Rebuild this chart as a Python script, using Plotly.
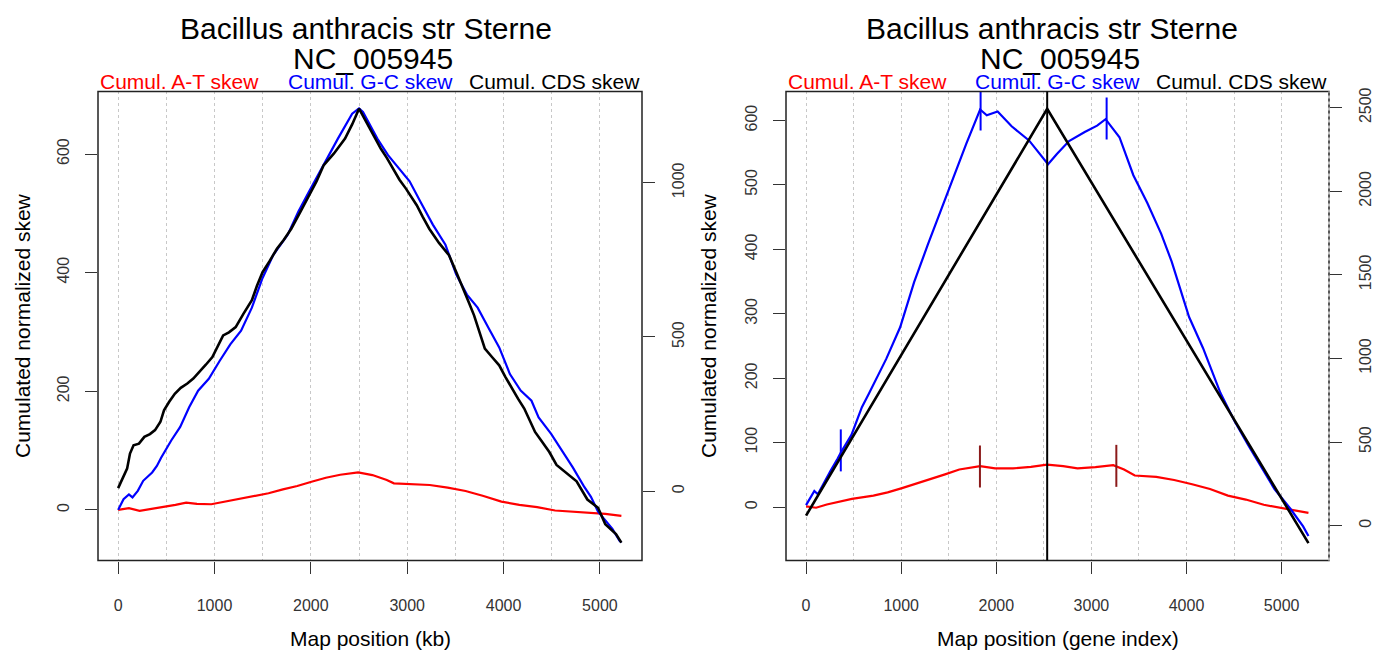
import plotly.graph_objects as go

W, H = 1385, 654
FONT = "Liberation Sans, Arial, sans-serif"

# ---------------- Left panel (map position in kb) ----------------
at_kb_x = [0, 112, 223, 335, 483, 595, 706, 818, 967, 1115, 1264, 1413, 1561, 1710, 1859, 2007, 2156, 2305, 2491,
           2639, 2788, 2862, 3048, 3234, 3420, 3606, 3792, 3978, 4164, 4349, 4535, 4721, 4907, 5056, 5223]
at_kb_y = [0, 2.8, -1.7, 1.1, 5.6, 8.4, 12.3, 10, 9.5, 14, 19.6, 23.5, 28, 34.6, 40.2, 47.5, 54.2, 59.2, 63.1,
           58.7, 50.3, 44.7, 43.6, 41.9, 37.4, 31.8, 23.5, 14, 8.4, 4.5, -1.1, -2.8, -4.5, -6.7, -10]

gc_kb_x = [0, 56, 112, 149, 204, 260, 353, 402, 446, 551, 644, 737, 830, 941, 1053, 1164, 1276, 1388, 1499, 1611,
           1760, 1871, 1983, 2132, 2281, 2429, 2500, 2541, 2690, 2801, 2913, 3025, 3136, 3266, 3397, 3508, 3620,
           3731, 3843, 3955, 4066, 4178, 4290, 4364, 4494, 4625, 4717, 4833, 4907, 4981, 5056, 5130, 5204, 5223]
gc_kb_y = [0, 18, 26, 21, 32, 49, 63, 74, 88, 117, 140, 173, 201, 221, 251, 279, 302, 341, 391, 430,
           464, 503, 537, 582, 626, 668, 677, 671, 626, 598, 576, 554, 520, 481, 447, 397, 363,
           341, 307, 274, 229, 201, 184, 156, 128, 95, 72, 40, 22, -3, -18, -32, -52, -55]

cds_kb_x = [0, 30, 60, 93, 123, 160, 216, 272, 330, 383, 439, 476, 530, 588, 650, 718, 780, 848, 910, 978, 1030,
            1090, 1150, 1220, 1300, 1388, 1440, 1499, 1570, 1648, 1720, 1797, 1890, 1983, 2060, 2132, 2240, 2355,
            2430, 2500, 2560, 2615, 2670, 2727, 2790, 2857, 2920, 2987, 3040, 3099, 3160, 3229, 3330, 3434, 3510,
            3583, 3640, 3694, 3750, 3806, 3880, 3955, 4020, 4085, 4150, 4215, 4270, 4327, 4400, 4475, 4550, 4647,
            4758, 4870, 4981, 5056, 5167, 5223]
cds_kb_y = [10, 30, 55, 73, 122, 149, 154, 176, 185, 198, 225, 262, 290, 316, 335, 349, 365, 387, 410, 435, 470,
            505, 515, 532, 575, 619, 665, 710, 745, 786, 815, 851, 905, 959, 1005, 1056, 1095, 1143,
            1190, 1240, 1205, 1175, 1140, 1110, 1080, 1045, 1010, 981, 955, 927, 890, 851, 805, 765, 710,
            657, 612, 570, 515, 462, 435, 408, 370, 333, 300, 268, 230, 192, 160, 127, 85, 59,
            32, -27, -54, -107, -139, -167]

# ---------------- Right panel (map position in gene index) ----------------
at_gi_x = [0, 105, 218, 331, 482, 708, 858, 1009, 1160, 1310, 1461, 1611, 1762, 1830, 1988, 2176, 2364, 2534,
           2703, 2854, 3042, 3230, 3343, 3456, 3682, 3870, 4059, 4247, 4435, 4623, 4812, 5000, 5113, 5282]
at_gi_y = [1, -1, 4, 7.6, 12.7, 17.8, 22.8, 29.4, 36.5, 43, 50.8, 58.4, 62.4, 63.5, 60, 60, 62.4, 66,
           63.5, 60, 62, 65, 58.4, 49, 47, 42, 35.5, 28, 17.8, 11.7, 3.6, -1.5, -5, -9]

gc_gi_x = [0, 49, 87, 124, 181, 256, 331, 367, 477, 587, 660, 843, 989, 1136, 1282, 1502, 1685, 1830, 1900,
           2014, 2161, 2344, 2544, 2637, 2765, 2930, 3060, 3149, 3295, 3441, 3588, 3734, 3844, 4027, 4173,
           4357, 4503, 4649, 4869, 4925, 5094, 5226, 5282]
gc_gi_y = [3, 15, 25, 20, 36, 56, 75, 85, 112, 155, 176, 230, 279, 349, 408, 494, 564, 617, 608,
           614, 591, 569, 532, 548, 568, 582, 592, 602, 574, 515, 472, 424, 381, 295, 247,
           177, 134, 96, 40, 28, -3, -30, -45]

cds_gi_x = [0, 2535, 5282]
cds_gi_y = [60, 2493, -105]

origin_gi = 2535

gc_mark_x = [365, 1835, 3160]
gc_mark_y = [88, 617, 603]
at_mark_x = [1828, 3262]
at_mark_y = [63, 64]

# tick values
kb_xticks = [0, 1000, 2000, 3000, 4000, 5000]
kb_yticks = [0, 200, 400, 600]
kb_y2ticks = [0, 500, 1000]
gi_xticks = [0, 1000, 2000, 3000, 4000, 5000]
gi_yticks = [0, 100, 200, 300, 400, 500, 600]
gi_y2ticks = [0, 500, 1000, 1500, 2000, 2500]

fig = go.Figure()

def line(x, y, color, width, xa, ya):
    fig.add_trace(go.Scatter(x=x, y=y, mode="lines", line=dict(color=color, width=width),
                             xaxis=xa, yaxis=ya, showlegend=False, hoverinfo="skip"))

line(at_kb_x, at_kb_y, "#ff0000", 2.2, "x", "y")
line(gc_kb_x, gc_kb_y, "#0000ff", 2.2, "x", "y")
line(cds_kb_x, cds_kb_y, "#000000", 2.6, "x", "y2")

line(at_gi_x, at_gi_y, "#ff0000", 2.2, "x2", "y3")
line(gc_gi_x, gc_gi_y, "#0000ff", 2.2, "x2", "y3")
line(cds_gi_x, cds_gi_y, "#000000", 2.6, "x2", "y4")

fig.add_trace(go.Scatter(x=gc_mark_x, y=gc_mark_y, mode="markers", xaxis="x2", yaxis="y3",
                         marker=dict(symbol="line-ns", size=30, line=dict(color="#0000ff", width=2)),
                         showlegend=False, hoverinfo="skip"))
fig.add_trace(go.Scatter(x=at_mark_x, y=at_mark_y, mode="markers", xaxis="x2", yaxis="y3",
                         marker=dict(symbol="line-ns", size=30, line=dict(color="#8b1a1a", width=2)),
                         showlegend=False, hoverinfo="skip"))

def px_x(p):
    return p / W

def px_y(p):
    return 1 - p / H

top, bot = 88, 560
ydom = [px_y(bot), px_y(top)]
L1, R1 = 98, 642
L2, R2 = 786, 1329

tickfont = dict(family=FONT, size=16, color="#333")
common_x = dict(ticks="outside", ticklen=12, tickwidth=1, tickcolor="#333", tickfont=tickfont,
                showline=False, zeroline=False, showgrid=True, gridcolor="#c8c8c8", griddash="dot",
                gridwidth=1, ticklabelstandoff=18,
                minor=dict(dtick=500, showgrid=True, gridcolor="#c8c8c8", griddash="dot", ticks=""))
common_y = dict(ticks="outside", ticklen=12, tickwidth=1, tickcolor="#333", tickfont=tickfont,
                showline=False, zeroline=False, showgrid=False, tickangle=-90, ticklabelstandoff=10)

fig.update_layout(
    width=W, height=H, margin=dict(l=0, r=0, t=0, b=0),
    paper_bgcolor="white", plot_bgcolor="white", showlegend=False,
    xaxis=dict(domain=[px_x(L1), px_x(R1)], range=[-209, 5437], tickvals=kb_xticks, anchor="y", **common_x),
    yaxis=dict(domain=ydom, range=[-85.5, 705.5], tickvals=kb_yticks, anchor="x", **common_y),
    yaxis2=dict(range=[-225, 1296], tickvals=kb_y2ticks, overlaying="y", side="right", anchor="x", **common_y),
    xaxis2=dict(domain=[px_x(L2), px_x(R2)], range=[-211, 5498], tickvals=gi_xticks, anchor="y3", **common_x),
    yaxis3=dict(domain=ydom, range=[-83, 645], tickvals=gi_yticks, anchor="x2", **common_y),
    yaxis4=dict(range=[-209, 2597], tickvals=gi_y2ticks, overlaying="y3", side="right", anchor="x2", **common_y),
)

shapes = []
for xr, yr in (("x", "y"), ("x2", "y3")):
    shapes.append(dict(type="rect", xref=xr + " domain", yref=yr + " domain", x0=0, x1=1, y0=0, y1=1,
                       line=dict(color="#222", width=1.5), layer="above"))
shapes.append(dict(type="line", xref="x2", yref="y3 domain", x0=origin_gi, x1=origin_gi, y0=0, y1=1,
                   line=dict(color="#000", width=2), layer="above"))
shapes.append(dict(type="line", xref="x2 domain", yref="y3 domain", x0=1, x1=1, y0=0, y1=1,
                   line=dict(color="#d8d8d8", width=1.6, dash="dot"), layer="above"))
fig.update_layout(shapes=shapes)

ann = []
def text(x, y, s, size, color="#000", xanchor="center", angle=0):
    ann.append(dict(x=px_x(x), y=px_y(y), xref="paper", yref="paper", text=s, showarrow=False,
                    xanchor=xanchor, yanchor="middle", textangle=angle,
                    font=dict(family=FONT, size=size, color=color)))

for cx, cx2, L, R, xlab, ylx in ((366, 373, L1, R1, "Map position (kb)", 22),
                                 (1052, 1060, L2, R2, "Map position (gene index)", 708)):
    text(cx, 25, "Bacillus anthracis str Sterne", 30)
    text(cx2, 55, "NC_005945", 30)
    text(L, 78, "Cumul. A-T skew", 21, "#ff0000", "left")
    text((L + R) / 2, 78, "Cumul. G-C skew", 21, "#0000ff", "center")
    text(R, 78, "Cumul. CDS skew", 21, "#000000", "right")
    text((L + R) / 2, 638, xlab, 21)
    text(ylx, (top + bot) / 2, "Cumulated normalized skew", 21, angle=-90)
fig.update_layout(annotations=ann)

fig.write_html("out.html")
